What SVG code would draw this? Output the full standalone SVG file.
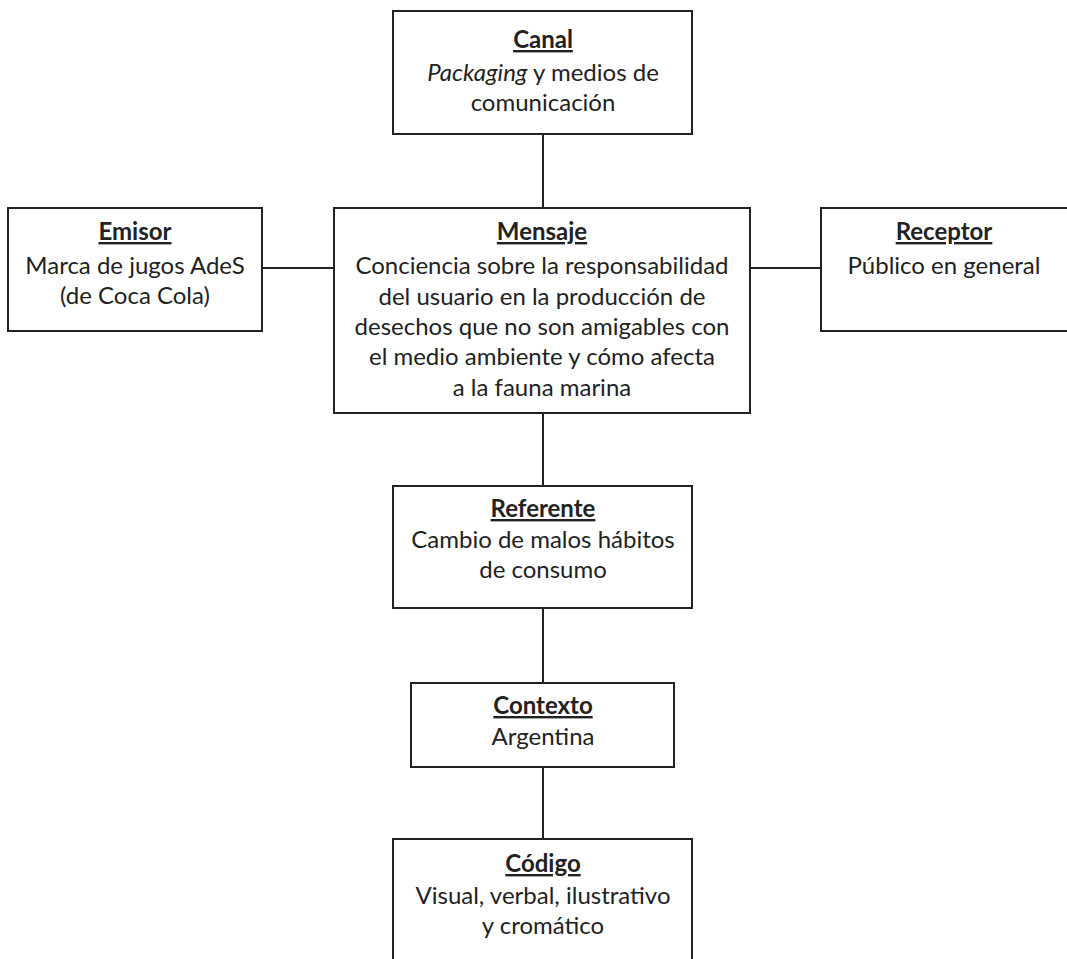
<svg xmlns="http://www.w3.org/2000/svg" width="1067" height="959" viewBox="0 0 1067 959">
<style>
.box{fill:#fff;stroke:#222;stroke-width:2}
.c{stroke:#222;stroke-width:2;fill:none}
text{font-family:Lato,"Open Sans",sans-serif;font-size:24px;fill:#222;text-anchor:middle}
.t{font-weight:bold;text-decoration:underline}
.i{font-style:italic}
</style>
<rect width="1067" height="959" fill="#fff"/>
<g id="connectors">
<line class="c" x1="543" y1="134" x2="543" y2="208"/>
<line class="c" x1="262" y1="268" x2="334" y2="268"/>
<line class="c" x1="750" y1="268" x2="821" y2="268"/>
<line class="c" x1="543" y1="413" x2="543" y2="486"/>
<line class="c" x1="543" y1="608" x2="543" y2="683"/>
<line class="c" x1="543" y1="767" x2="543" y2="839"/>
</g>
<g id="canal">
<rect class="box" x="393" y="11" width="299" height="123"/>
<text class="t" x="543" y="48">Canal</text>
<text x="543" y="81"><tspan class="i">Packaging</tspan> y medios de</text>
<text x="543" y="111">comunicación</text>
</g>
<g id="emisor">
<rect class="box" x="8" y="208" width="254" height="123"/>
<text class="t" x="135" y="240">Emisor</text>
<text x="135" y="274">Marca de jugos AdeS</text>
<text x="135" y="304">(de Coca Cola)</text>
</g>
<g id="mensaje">
<rect class="box" x="334" y="208" width="416" height="205"/>
<text class="t" x="542" y="240">Mensaje</text>
<text x="542" y="274">Conciencia sobre la responsabilidad</text>
<text x="542" y="305">del usuario en la producción de</text>
<text x="542" y="335">desechos que no son amigables con</text>
<text x="542" y="365">el medio ambiente y cómo afecta</text>
<text x="542" y="396">a la fauna marina</text>
</g>
<g id="receptor">
<rect class="box" x="821" y="208" width="250" height="123"/>
<text class="t" x="944" y="240">Receptor</text>
<text x="944" y="274">Público en general</text>
</g>
<g id="referente">
<rect class="box" x="393" y="486" width="299" height="122"/>
<text class="t" x="543" y="517">Referente</text>
<text x="543" y="548">Cambio de malos hábitos</text>
<text x="543" y="578">de consumo</text>
</g>
<g id="contexto">
<rect class="box" x="411" y="683" width="263" height="84"/>
<text class="t" x="543" y="714">Contexto</text>
<text x="543" y="745">Argentina</text>
</g>
<g id="codigo">
<rect class="box" x="393" y="839" width="299" height="130"/>
<text class="t" x="543" y="872">Código</text>
<text x="543" y="904">Visual, verbal, ilustrativo</text>
<text x="543" y="934">y cromático</text>
</g>
</svg>
